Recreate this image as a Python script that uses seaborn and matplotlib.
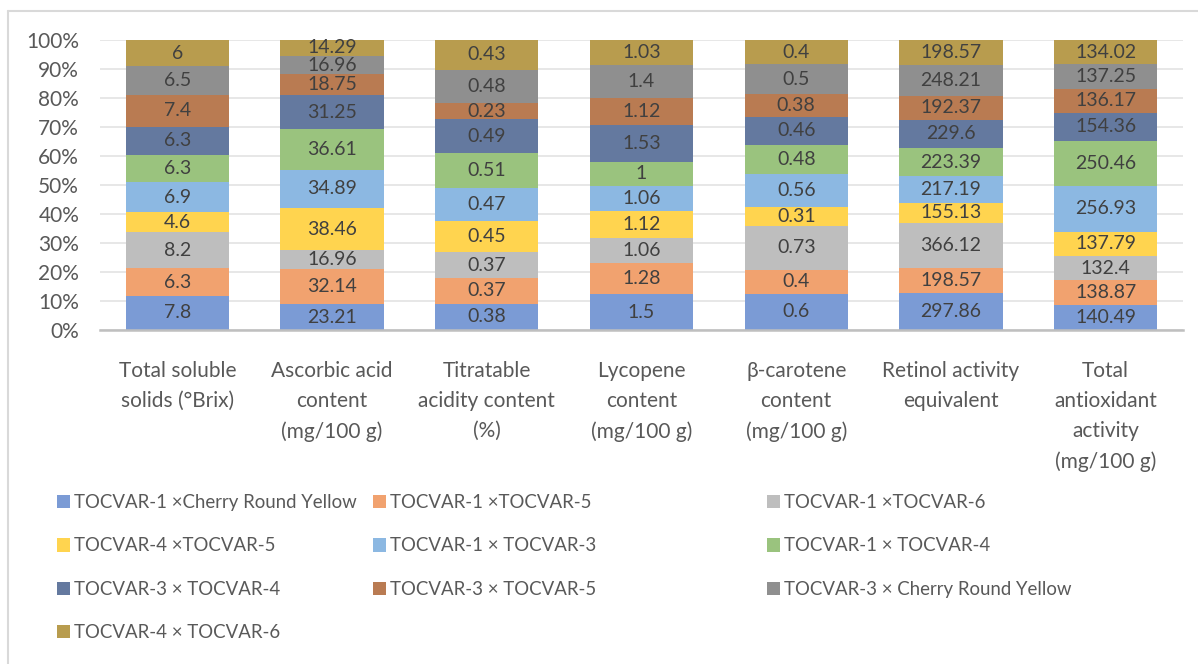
import matplotlib
matplotlib.use("Agg")
import matplotlib.pyplot as plt
import seaborn as sns
import numpy as np
from matplotlib.patches import Patch
from matplotlib.lines import Line2D

# ---- data -------------------------------------------------------------
categories = [
    "Total soluble\nsolids (°Brix)",
    "Ascorbic acid\ncontent\n(mg/100 g)",
    "Titratable\nacidity content\n(%)",
    "Lycopene\ncontent\n(mg/100 g)",
    "β-carotene\ncontent\n(mg/100 g)",
    "Retinol activity\nequivalent",
    "Total\nantioxidant\nactivity\n(mg/100 g)",
]

series_names = [
    "TOCVAR-1 ×Cherry Round Yellow",
    "TOCVAR-1 ×TOCVAR-5",
    "TOCVAR-1 ×TOCVAR-6",
    "TOCVAR-4 ×TOCVAR-5",
    "TOCVAR-1 × TOCVAR-3",
    "TOCVAR-1 × TOCVAR-4",
    "TOCVAR-3 × TOCVAR-4",
    "TOCVAR-3 × TOCVAR-5",
    "TOCVAR-3 × Cherry Round Yellow",
    "TOCVAR-4 × TOCVAR-6",
]

t1_cherry = [7.8, 23.21, 0.38, 1.5, 0.6, 297.86, 140.49]
t1_t5 = [6.3, 32.14, 0.37, 1.28, 0.4, 198.57, 138.87]
t1_t6 = [8.2, 16.96, 0.37, 1.06, 0.73, 366.12, 132.4]
t4_t5 = [4.6, 38.46, 0.45, 1.12, 0.31, 155.13, 137.79]
t1_t3 = [6.9, 34.89, 0.47, 1.06, 0.56, 217.19, 256.93]
t1_t4 = [6.3, 36.61, 0.51, 1.0, 0.48, 223.39, 250.46]
t3_t4 = [6.3, 31.25, 0.49, 1.53, 0.46, 229.6, 154.36]
t3_t5 = [7.4, 18.75, 0.23, 1.12, 0.38, 192.37, 136.17]
t3_cherry = [6.5, 16.96, 0.48, 1.4, 0.5, 248.21, 137.25]
t4_t6 = [6, 14.29, 0.43, 1.03, 0.4, 198.57, 134.02]

series_values = [t1_cherry, t1_t5, t1_t6, t4_t5, t1_t3,
                 t1_t4, t3_t4, t3_t5, t3_cherry, t4_t6]

colors = ["#7B9BD5", "#F1A26F", "#BEBEBE", "#FFD44F", "#8CB8E2",
          "#9AC37E", "#64799F", "#B97B52", "#8F8F8F", "#B89C4E"]

# ---- style ------------------------------------------------------------
sns.set_theme(style="white")
plt.rcParams["font.family"] = ["Lato", "DejaVu Sans"]
FS = 15
VAL_FS = 14
LEG_FS = 13.4
TICK_C = "#595959"
LABEL_C = "#404040"

fig = plt.figure(figsize=(11.98, 6.64), dpi=100)
ax = fig.add_axes([100 / 1198, 1 - 330 / 664, 1083 / 1198, 290 / 664])

values = np.array(series_values, dtype=float)
shares = values / values.sum(axis=0)
bottoms = np.vstack([np.zeros(len(categories)), np.cumsum(shares, axis=0)[:-1]])

for i, name in enumerate(series_names):
    sns.barplot(x=categories, y=shares[i], order=categories, bottom=bottoms[i],
                color=colors[i], saturation=1, width=0.667, errorbar=None,
                linewidth=0, ax=ax)
    ax.bar_label(ax.containers[-1], labels=[f"{v:g}" for v in series_values[i]],
                 label_type="center", fontsize=VAL_FS, color=LABEL_C)

# ---- axes -------------------------------------------------------------
ax.set_ylim(0, 1)
ax.set_xlim(-0.5, len(categories) - 0.5)
ax.set_yticks(np.arange(0, 1.01, 0.1))
ax.set_yticklabels([f"{int(round(t * 100))}%" for t in np.arange(0, 1.01, 0.1)])
ax.yaxis.grid(True, color="#E3E3E3", linewidth=1.2)
ax.set_axisbelow(True)
for side in ("left", "right", "top"):
    ax.spines[side].set_visible(False)
ax.spines["bottom"].set_color("#BFBFBF")
ax.spines["bottom"].set_linewidth(1.8)
ax.tick_params(axis="y", length=0, pad=15, labelsize=FS, labelcolor=TICK_C)
ax.tick_params(axis="x", length=0, pad=22, labelsize=FS, labelcolor=TICK_C)
ax.set_xlabel("")
ax.set_ylabel("")
for lbl in ax.get_xticklabels():
    lbl.set_linespacing(1.63)

# ---- legend (three columns, filled row by row) ------------------------
handles = [Patch(facecolor=c, edgecolor="none") for c in colors]
col_x = [57, 373, 767]
for col in range(3):
    idx = list(range(col, len(series_names), 3))
    fig.legend([handles[j] for j in idx], [series_names[j] for j in idx],
               loc="upper left", bbox_to_anchor=(col_x[col] / 1198, 1 - 494 / 664),
               frameon=False, fontsize=LEG_FS, labelcolor=TICK_C,
               handlelength=0.68, handleheight=0.72, handletextpad=0.25,
               labelspacing=1.42, borderpad=0, borderaxespad=0)

# ---- chart border -----------------------------------------------------
bx, by = 8 / 1198, 1 - 11 / 664
fig.add_artist(Line2D([bx, bx], [0, by], transform=fig.transFigure,
                      color="#D9D9D9", linewidth=1.5))
fig.add_artist(Line2D([bx, 1], [by, by], transform=fig.transFigure,
                      color="#D9D9D9", linewidth=1.5))

fig.savefig("out.png", dpi=100, facecolor="white")
